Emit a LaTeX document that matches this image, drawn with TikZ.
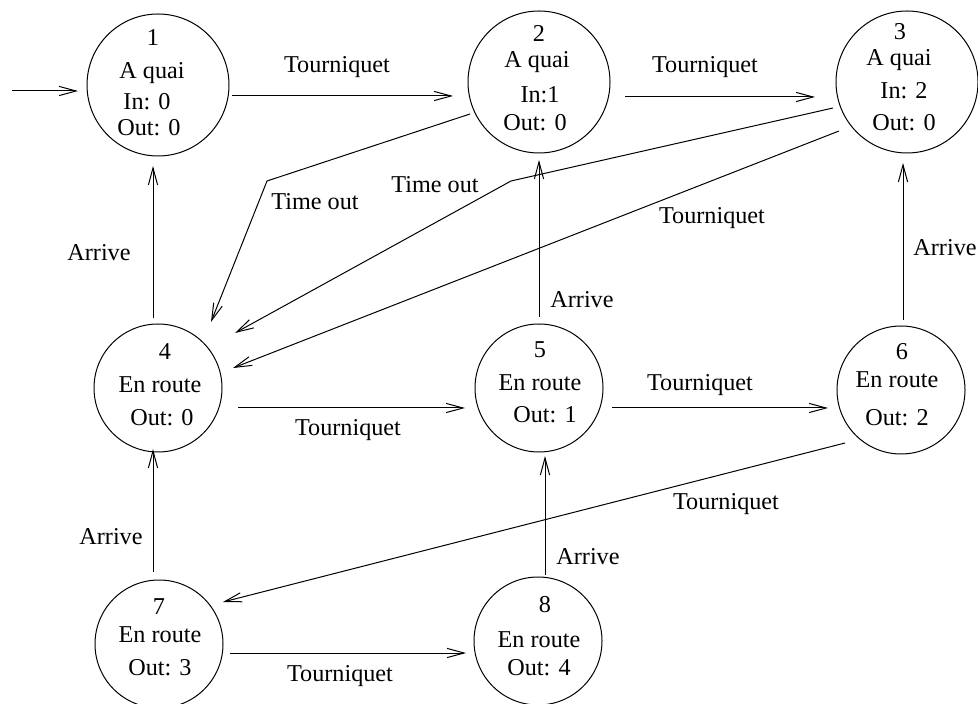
\documentclass[tikz,border=0pt]{standalone}
\usepackage{fontspec}
\setmainfont{Liberation Serif}
\usetikzlibrary{arrows.meta,calc}
\begin{document}
\begin{tikzpicture}[x=0.5pt,y=-0.5pt,
  every node/.style={font=\fontsize{12.1}{14}\selectfont, inner sep=0pt},
  bigstate/.style={circle, draw, line width=0.5pt, minimum size=71pt},
  smallstate/.style={circle, draw, line width=0.5pt, minimum size=64pt},
  conn/.style={line width=0.5pt, -{Straight Barb[length=8.5pt,width=4.6pt,line width=0.5pt]}},
  lbl/.style={anchor=center}]
\useasboundingbox (0,0) rectangle (978,704);
% states
\node[bigstate] (N1) at (158,85) {};
\node[bigstate] (N2) at (539,82) {};
\node[bigstate] (N3) at (907,82) {};
\node[smallstate] (N4) at (158,388) {};
\node[smallstate] (N5) at (539,388) {};
\node[smallstate] (N6) at (901,390) {};
\node[smallstate] (N7) at (159,644) {};
\node[smallstate] (N8) at (538,641) {};
% state texts
\node (t1a) at (153,38) {1};
\node (t1b) at (152,73) {A quai};
\node (t1c) at (147,102) {In: 0};
\node (t1d) at (149,128) {Out: 0};
\node (t2a) at (539,33) {2};
\node (t2b) at (537,62) {A quai};
\node (t2c) at (540,95) {In:1};
\node (t2d) at (535,123) {Out: 0};
\node (t3a) at (900,32) {3};
\node (t3b) at (899,60) {A quai};
\node (t3c) at (904,91) {In: 2};
\node (t3d) at (904,123) {Out: 0};
\node (t4a) at (165,352) {4};
\node (t4b) at (160,385) {En route};
\node (t4c) at (162,418) {Out: 0};
\node (t5a) at (540,350) {5};
\node (t5b) at (540,383) {En route};
\node (t5c) at (545,415) {Out: 1};
\node (t6a) at (902,352) {6};
\node (t6b) at (897,380) {En route};
\node (t6c) at (897,418) {Out: 2};
\node (t7a) at (159,607) {7};
\node (t7b) at (160,635) {En route};
\node (t7c) at (160,668) {Out: 3};
\node (t8a) at (545,605) {8};
\node (t8b) at (539,640) {En route};
\node (t8c) at (539,668) {Out: 4};
% initial arrow
\coordinate (init) at (12,91);
\draw[conn] (init) -- ($(N1)+(-80,6)$);
% top row
\draw[conn] ($(N1)+(74,11)$) -- ($(N2)+(-86,14)$);
\node[lbl] (l12) at (337,67) {Tourniquet};
\draw[conn] ($(N2)+(86,15)$) -- ($(N3)+(-92,15)$);
\node[lbl] (l23) at (705,67) {Tourniquet};
% time outs
\draw[conn] ($(N2)+(-69,32)$) -- (267,181) -- ($(N4)+(53,-66)$);
\node[lbl] (l24) at (315,202) {Time out};
\draw[conn] ($(N3)+(-74,26)$) -- (511,181) -- ($(N4)+(77,-55)$);
\node[lbl] (l34a) at (435,185) {Time out};
\draw[conn] ($(N3)+(-68,49)$) -- ($(N4)+(75,-20)$);
\node[lbl] (l34b) at (712,218) {Tourniquet};
% arrives
\draw[conn] ($(N4)+(-5,-70)$) -- ($(N1)+(-5,81)$);
\node[lbl] (l41) at (99,253) {Arrive};
\draw[conn] ($(N5)+(0,-71)$) -- ($(N2)+(0,78)$);
\node[lbl] (l52) at (582,300) {Arrive};
\draw[conn] ($(N6)+(2,-70)$) -- ($(N3)+(-4,81)$);
\node[lbl] (l63) at (945,248) {Arrive};
\draw[conn] ($(N7)+(-6,-72)$) -- ($(N4)+(-5,61)$);
\node[lbl] (l74) at (111,537) {Arrive};
\draw[conn] ($(N8)+(7,-66)$) -- ($(N5)+(6,68)$);
\node[lbl] (l85) at (588,557) {Arrive};
% middle row
\draw[conn] ($(N4)+(80,20)$) -- ($(N5)+(-74,20)$);
\node[lbl] (l45) at (348,430) {Tourniquet};
\draw[conn] ($(N5)+(73,20)$) -- ($(N6)+(-73,18)$);
\node[lbl] (l56) at (700,385) {Tourniquet};
\draw[conn] ($(N6)+(-56,53)$) -- ($(N7)+(64,-42)$);
\node[lbl] (l67) at (726,504) {Tourniquet};
% bottom row
\draw[conn] ($(N7)+(71,9)$) -- ($(N8)+(-72,12)$);
\node[lbl] (l78) at (340,676) {Tourniquet};
\end{tikzpicture}
\end{document}
